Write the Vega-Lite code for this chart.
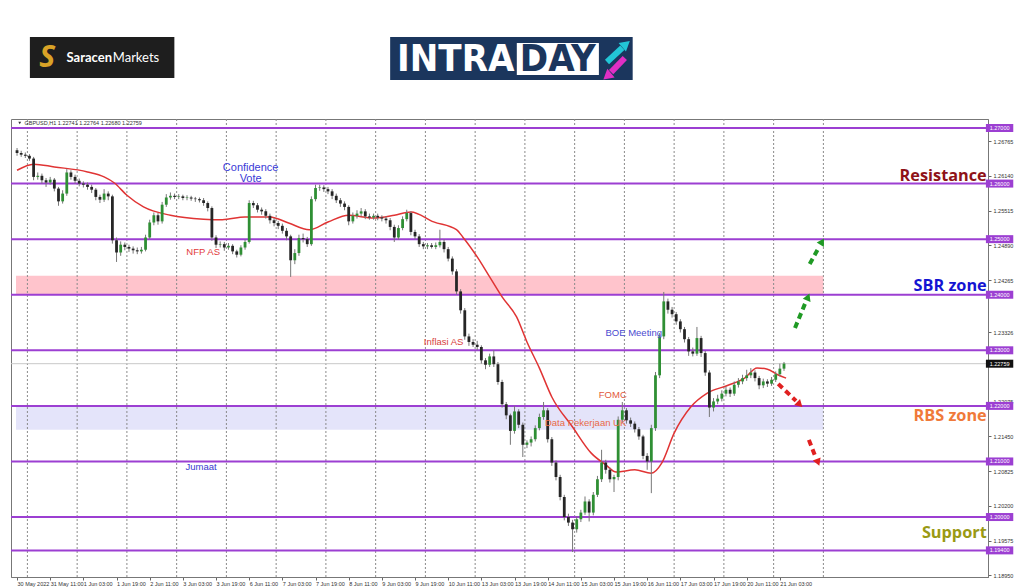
{
"$schema": "https://vega.github.io/schema/vega-lite/v6.json",
"width": 977, "height": 458,
"autosize": {"type": "none"},
"padding": {"left": 11, "top": 119, "right": 36, "bottom": 10},
"background": "white",
"config": {"view": {"stroke": "#777", "strokeWidth": 1}, "font": "Liberation Sans"},
"resolve": {"scale": {"color": "independent"}},
"datasets": {
"one": [{"k": 1}],
"candles": [
{"t":0,"o":1.2660,"h":1.2664,"l":1.2650,"c":1.2655},
{"t":2,"o":1.2655,"h":1.2659,"l":1.2648,"c":1.2652},
{"t":4,"o":1.2652,"h":1.2656,"l":1.2646,"c":1.2650},
{"t":6,"o":1.2650,"h":1.2653,"l":1.2641,"c":1.2645},
{"t":8,"o":1.2645,"h":1.2648,"l":1.2606,"c":1.2612},
{"t":10,"o":1.2612,"h":1.2620,"l":1.2607,"c":1.2614},
{"t":12,"o":1.2614,"h":1.2618,"l":1.2600,"c":1.2606},
{"t":14,"o":1.2606,"h":1.2610,"l":1.2594,"c":1.2602},
{"t":16,"o":1.2602,"h":1.2612,"l":1.2598,"c":1.2607},
{"t":18,"o":1.2607,"h":1.2610,"l":1.2586,"c":1.2591},
{"t":20,"o":1.2591,"h":1.2594,"l":1.2560,"c":1.2568},
{"t":22,"o":1.2568,"h":1.2588,"l":1.2564,"c":1.2582},
{"t":24,"o":1.2582,"h":1.2626,"l":1.2578,"c":1.2620},
{"t":26,"o":1.2620,"h":1.2624,"l":1.2607,"c":1.2612},
{"t":28,"o":1.2612,"h":1.2616,"l":1.2600,"c":1.2605},
{"t":30,"o":1.2605,"h":1.2609,"l":1.2595,"c":1.2600},
{"t":32,"o":1.2600,"h":1.2604,"l":1.2593,"c":1.2598},
{"t":34,"o":1.2598,"h":1.2602,"l":1.2589,"c":1.2594},
{"t":36,"o":1.2594,"h":1.2598,"l":1.2583,"c":1.2589},
{"t":38,"o":1.2589,"h":1.2592,"l":1.2570,"c":1.2576},
{"t":40,"o":1.2576,"h":1.2580,"l":1.2565,"c":1.2571},
{"t":42,"o":1.2571,"h":1.2590,"l":1.2567,"c":1.2582},
{"t":44,"o":1.2582,"h":1.2586,"l":1.2570,"c":1.2577},
{"t":46,"o":1.2577,"h":1.2580,"l":1.2492,"c":1.2498},
{"t":48,"o":1.2498,"h":1.2503,"l":1.2459,"c":1.2476},
{"t":50,"o":1.2476,"h":1.2496,"l":1.2470,"c":1.2490},
{"t":52,"o":1.2490,"h":1.2494,"l":1.2480,"c":1.2486},
{"t":54,"o":1.2486,"h":1.2490,"l":1.2477,"c":1.2483},
{"t":56,"o":1.2483,"h":1.2487,"l":1.2474,"c":1.2480},
{"t":58,"o":1.2480,"h":1.2485,"l":1.2473,"c":1.2478},
{"t":60,"o":1.2478,"h":1.2486,"l":1.2474,"c":1.2481},
{"t":62,"o":1.2481,"h":1.2508,"l":1.2478,"c":1.2503},
{"t":64,"o":1.2503,"h":1.2535,"l":1.2500,"c":1.2530},
{"t":66,"o":1.2530,"h":1.2548,"l":1.2525,"c":1.2543},
{"t":68,"o":1.2543,"h":1.2547,"l":1.2526,"c":1.2532},
{"t":70,"o":1.2532,"h":1.2567,"l":1.2528,"c":1.2562},
{"t":72,"o":1.2562,"h":1.2581,"l":1.2558,"c":1.2575},
{"t":74,"o":1.2575,"h":1.2584,"l":1.2571,"c":1.2578},
{"t":76,"o":1.2578,"h":1.2582,"l":1.2572,"c":1.2576},
{"t":78,"o":1.2576,"h":1.2581,"l":1.2572,"c":1.2577},
{"t":80,"o":1.2577,"h":1.2580,"l":1.2570,"c":1.2574},
{"t":82,"o":1.2574,"h":1.2579,"l":1.2570,"c":1.2575},
{"t":84,"o":1.2575,"h":1.2578,"l":1.2569,"c":1.2573},
{"t":86,"o":1.2573,"h":1.2576,"l":1.2567,"c":1.2572},
{"t":88,"o":1.2572,"h":1.2575,"l":1.2566,"c":1.2570},
{"t":90,"o":1.2570,"h":1.2574,"l":1.2560,"c":1.2565},
{"t":92,"o":1.2565,"h":1.2568,"l":1.2550,"c":1.2556},
{"t":94,"o":1.2556,"h":1.2559,"l":1.2497,"c":1.2503},
{"t":96,"o":1.2503,"h":1.2507,"l":1.2484,"c":1.2490},
{"t":98,"o":1.2490,"h":1.2496,"l":1.2485,"c":1.2491},
{"t":100,"o":1.2491,"h":1.2495,"l":1.2479,"c":1.2485},
{"t":102,"o":1.2485,"h":1.2493,"l":1.2481,"c":1.2488},
{"t":104,"o":1.2488,"h":1.2491,"l":1.2473,"c":1.2478},
{"t":106,"o":1.2478,"h":1.2481,"l":1.2467,"c":1.2472},
{"t":108,"o":1.2472,"h":1.2489,"l":1.2469,"c":1.2485},
{"t":110,"o":1.2485,"h":1.2499,"l":1.2481,"c":1.2495},
{"t":112,"o":1.2495,"h":1.2570,"l":1.2492,"c":1.2565},
{"t":114,"o":1.2565,"h":1.2569,"l":1.2556,"c":1.2561},
{"t":116,"o":1.2561,"h":1.2565,"l":1.2548,"c":1.2553},
{"t":118,"o":1.2553,"h":1.2557,"l":1.2544,"c":1.2550},
{"t":120,"o":1.2550,"h":1.2554,"l":1.2537,"c":1.2542},
{"t":122,"o":1.2542,"h":1.2546,"l":1.2528,"c":1.2534},
{"t":124,"o":1.2534,"h":1.2538,"l":1.2523,"c":1.2529},
{"t":126,"o":1.2529,"h":1.2533,"l":1.2518,"c":1.2524},
{"t":128,"o":1.2524,"h":1.2528,"l":1.2510,"c":1.2515},
{"t":130,"o":1.2515,"h":1.2520,"l":1.2498,"c":1.2505},
{"t":132,"o":1.2505,"h":1.2508,"l":1.2432,"c":1.2462},
{"t":134,"o":1.2462,"h":1.2482,"l":1.2455,"c":1.2475},
{"t":136,"o":1.2475,"h":1.2508,"l":1.2470,"c":1.2502},
{"t":138,"o":1.2502,"h":1.2510,"l":1.2494,"c":1.2500},
{"t":140,"o":1.2500,"h":1.2504,"l":1.2486,"c":1.2491},
{"t":142,"o":1.2491,"h":1.2577,"l":1.2488,"c":1.2572},
{"t":144,"o":1.2572,"h":1.2598,"l":1.2568,"c":1.2592},
{"t":146,"o":1.2592,"h":1.2598,"l":1.2587,"c":1.2593},
{"t":148,"o":1.2593,"h":1.2597,"l":1.2585,"c":1.2590},
{"t":150,"o":1.2590,"h":1.2594,"l":1.2581,"c":1.2586},
{"t":152,"o":1.2586,"h":1.2590,"l":1.2572,"c":1.2578},
{"t":154,"o":1.2578,"h":1.2582,"l":1.2565,"c":1.2570},
{"t":156,"o":1.2570,"h":1.2574,"l":1.2558,"c":1.2564},
{"t":158,"o":1.2564,"h":1.2568,"l":1.2552,"c":1.2558},
{"t":160,"o":1.2558,"h":1.2561,"l":1.2525,"c":1.2532},
{"t":162,"o":1.2532,"h":1.2548,"l":1.2528,"c":1.2542},
{"t":164,"o":1.2542,"h":1.2552,"l":1.2537,"c":1.2546},
{"t":166,"o":1.2546,"h":1.2556,"l":1.2541,"c":1.2550},
{"t":168,"o":1.2550,"h":1.2554,"l":1.2536,"c":1.2541},
{"t":170,"o":1.2541,"h":1.2546,"l":1.2535,"c":1.2539},
{"t":172,"o":1.2539,"h":1.2546,"l":1.2535,"c":1.2542},
{"t":174,"o":1.2542,"h":1.2546,"l":1.2534,"c":1.2539},
{"t":176,"o":1.2539,"h":1.2543,"l":1.2532,"c":1.2537},
{"t":178,"o":1.2537,"h":1.2541,"l":1.2528,"c":1.2534},
{"t":180,"o":1.2534,"h":1.2538,"l":1.2516,"c":1.2522},
{"t":182,"o":1.2522,"h":1.2526,"l":1.2495,"c":1.2503},
{"t":184,"o":1.2503,"h":1.2525,"l":1.2499,"c":1.2520},
{"t":186,"o":1.2520,"h":1.2541,"l":1.2516,"c":1.2536},
{"t":188,"o":1.2536,"h":1.2553,"l":1.2532,"c":1.2547},
{"t":190,"o":1.2547,"h":1.2550,"l":1.2507,"c":1.2513},
{"t":192,"o":1.2513,"h":1.2517,"l":1.2500,"c":1.2505},
{"t":194,"o":1.2505,"h":1.2509,"l":1.2486,"c":1.2491},
{"t":196,"o":1.2491,"h":1.2495,"l":1.2482,"c":1.2487},
{"t":198,"o":1.2487,"h":1.2493,"l":1.2482,"c":1.2489},
{"t":200,"o":1.2489,"h":1.2493,"l":1.2483,"c":1.2486},
{"t":202,"o":1.2486,"h":1.2494,"l":1.2482,"c":1.2489},
{"t":204,"o":1.2489,"h":1.2517,"l":1.2485,"c":1.2495},
{"t":206,"o":1.2495,"h":1.2500,"l":1.2476,"c":1.2482},
{"t":208,"o":1.2482,"h":1.2486,"l":1.2460,"c":1.2465},
{"t":210,"o":1.2465,"h":1.2469,"l":1.2436,"c":1.2442},
{"t":212,"o":1.2442,"h":1.2446,"l":1.2400,"c":1.2406},
{"t":214,"o":1.2406,"h":1.2410,"l":1.2366,"c":1.2372},
{"t":216,"o":1.2372,"h":1.2376,"l":1.2319,"c":1.2325},
{"t":218,"o":1.2325,"h":1.2330,"l":1.2308,"c":1.2315},
{"t":220,"o":1.2315,"h":1.2320,"l":1.2306,"c":1.2310},
{"t":222,"o":1.2310,"h":1.2317,"l":1.2300,"c":1.2306},
{"t":224,"o":1.2306,"h":1.2309,"l":1.2276,"c":1.2282},
{"t":226,"o":1.2282,"h":1.2286,"l":1.2266,"c":1.2274},
{"t":228,"o":1.2274,"h":1.2294,"l":1.2270,"c":1.2289},
{"t":230,"o":1.2289,"h":1.2300,"l":1.2270,"c":1.2275},
{"t":232,"o":1.2275,"h":1.2279,"l":1.2238,"c":1.2243},
{"t":234,"o":1.2243,"h":1.2247,"l":1.2197,"c":1.2203},
{"t":236,"o":1.2203,"h":1.2207,"l":1.2176,"c":1.2183},
{"t":238,"o":1.2183,"h":1.2186,"l":1.2130,"c":1.2155},
{"t":240,"o":1.2155,"h":1.2200,"l":1.2150,"c":1.2190},
{"t":242,"o":1.2190,"h":1.2194,"l":1.2160,"c":1.2166},
{"t":244,"o":1.2166,"h":1.2170,"l":1.2108,"c":1.2130},
{"t":246,"o":1.2130,"h":1.2138,"l":1.2124,"c":1.2134},
{"t":248,"o":1.2134,"h":1.2145,"l":1.2127,"c":1.2140},
{"t":250,"o":1.2140,"h":1.2165,"l":1.2136,"c":1.2160},
{"t":252,"o":1.2160,"h":1.2186,"l":1.2156,"c":1.2180},
{"t":254,"o":1.2180,"h":1.2207,"l":1.2175,"c":1.2192},
{"t":256,"o":1.2192,"h":1.2196,"l":1.2134,"c":1.2140},
{"t":258,"o":1.2140,"h":1.2144,"l":1.2092,"c":1.2098},
{"t":260,"o":1.2098,"h":1.2102,"l":1.2066,"c":1.2072},
{"t":262,"o":1.2072,"h":1.2076,"l":1.2030,"c":1.2036},
{"t":264,"o":1.2036,"h":1.2040,"l":1.1994,"c":1.2000},
{"t":266,"o":1.2000,"h":1.2006,"l":1.1984,"c":1.1990},
{"t":268,"o":1.1990,"h":1.1995,"l":1.1937,"c":1.1978},
{"t":270,"o":1.1978,"h":1.2001,"l":1.1972,"c":1.1996},
{"t":272,"o":1.1996,"h":1.2013,"l":1.1991,"c":1.2008},
{"t":274,"o":1.2008,"h":1.2037,"l":1.2004,"c":1.2028},
{"t":276,"o":1.2028,"h":1.2032,"l":1.1992,"c":1.2008},
{"t":278,"o":1.2008,"h":1.2045,"l":1.2003,"c":1.2040},
{"t":280,"o":1.2040,"h":1.2074,"l":1.2036,"c":1.2068},
{"t":282,"o":1.2068,"h":1.2121,"l":1.2063,"c":1.2098},
{"t":284,"o":1.2098,"h":1.2103,"l":1.2078,"c":1.2085},
{"t":286,"o":1.2085,"h":1.2089,"l":1.2062,"c":1.2068},
{"t":288,"o":1.2068,"h":1.2076,"l":1.2045,"c":1.2072},
{"t":290,"o":1.2072,"h":1.2181,"l":1.2066,"c":1.2175},
{"t":292,"o":1.2175,"h":1.2207,"l":1.2170,"c":1.2192},
{"t":294,"o":1.2192,"h":1.2196,"l":1.2168,"c":1.2174},
{"t":296,"o":1.2174,"h":1.2179,"l":1.2162,"c":1.2168},
{"t":298,"o":1.2168,"h":1.2172,"l":1.2152,"c":1.2158},
{"t":300,"o":1.2158,"h":1.2162,"l":1.2139,"c":1.2145},
{"t":302,"o":1.2145,"h":1.2148,"l":1.2104,"c":1.2110},
{"t":304,"o":1.2110,"h":1.2115,"l":1.2085,"c":1.2100},
{"t":306,"o":1.2100,"h":1.2166,"l":1.2043,"c":1.2160},
{"t":308,"o":1.2160,"h":1.2261,"l":1.2155,"c":1.2255},
{"t":310,"o":1.2255,"h":1.2331,"l":1.2250,"c":1.2325},
{"t":312,"o":1.2325,"h":1.2405,"l":1.2320,"c":1.2388},
{"t":314,"o":1.2388,"h":1.2393,"l":1.2366,"c":1.2373},
{"t":316,"o":1.2373,"h":1.2378,"l":1.2359,"c":1.2365},
{"t":318,"o":1.2365,"h":1.2369,"l":1.2346,"c":1.2352},
{"t":320,"o":1.2352,"h":1.2356,"l":1.2332,"c":1.2338},
{"t":322,"o":1.2338,"h":1.2342,"l":1.2314,"c":1.2320},
{"t":324,"o":1.2320,"h":1.2324,"l":1.2290,"c":1.2298},
{"t":326,"o":1.2298,"h":1.2305,"l":1.2289,"c":1.2294},
{"t":328,"o":1.2294,"h":1.2342,"l":1.2290,"c":1.2322},
{"t":330,"o":1.2322,"h":1.2326,"l":1.2288,"c":1.2295},
{"t":332,"o":1.2295,"h":1.2299,"l":1.2254,"c":1.2260},
{"t":334,"o":1.2260,"h":1.2264,"l":1.2180,"c":1.2197},
{"t":336,"o":1.2197,"h":1.2214,"l":1.2190,"c":1.2208},
{"t":338,"o":1.2208,"h":1.2220,"l":1.2203,"c":1.2213},
{"t":340,"o":1.2213,"h":1.2228,"l":1.2208,"c":1.2222},
{"t":342,"o":1.2222,"h":1.2235,"l":1.2217,"c":1.2229},
{"t":344,"o":1.2229,"h":1.2233,"l":1.2216,"c":1.2222},
{"t":346,"o":1.2222,"h":1.2244,"l":1.2218,"c":1.2238},
{"t":348,"o":1.2238,"h":1.2250,"l":1.2233,"c":1.2244},
{"t":350,"o":1.2244,"h":1.2256,"l":1.2239,"c":1.2250},
{"t":352,"o":1.2250,"h":1.2265,"l":1.2245,"c":1.2255},
{"t":354,"o":1.2255,"h":1.2268,"l":1.2250,"c":1.2260},
{"t":356,"o":1.2260,"h":1.2264,"l":1.2244,"c":1.2250},
{"t":358,"o":1.2250,"h":1.2254,"l":1.2230,"c":1.2237},
{"t":360,"o":1.2237,"h":1.2249,"l":1.2232,"c":1.2244},
{"t":362,"o":1.2244,"h":1.2248,"l":1.2234,"c":1.2240},
{"t":364,"o":1.2240,"h":1.2252,"l":1.2236,"c":1.2247},
{"t":366,"o":1.2247,"h":1.2262,"l":1.2243,"c":1.2257},
{"t":368,"o":1.2257,"h":1.2276,"l":1.2253,"c":1.2267},
{"t":370,"o":1.2267,"h":1.2279,"l":1.2263,"c":1.2276}
],
"ma": [
{"t":0,"v":1.2624},{"t":8,"v":1.2635},{"t":18,"v":1.2630},{"t":34,"v":1.2621},{"t":42,"v":1.2612},{"t":47,"v":1.2601},{"t":53,"v":1.2579},{"t":61,"v":1.2558},{"t":74,"v":1.2543},{"t":90,"v":1.2536},{"t":99,"v":1.2535},{"t":110,"v":1.2540},{"t":122,"v":1.2540},{"t":131,"v":1.2529},{"t":141,"v":1.2517},{"t":150,"v":1.2531},{"t":160,"v":1.2543},{"t":172,"v":1.2538},{"t":182,"v":1.2543},{"t":190,"v":1.2549},{"t":201,"v":1.2531},{"t":212,"v":1.2517},{"t":215,"v":1.2504},{"t":222,"v":1.2468},{"t":228,"v":1.2432},{"t":234,"v":1.2396},{"t":241,"v":1.2360},{"t":246,"v":1.2315},{"t":252,"v":1.2268},{"t":258,"v":1.2216},{"t":268,"v":1.2162},{"t":277,"v":1.2115},{"t":284,"v":1.2094},{"t":289,"v":1.2081},{"t":298,"v":1.2085},{"t":306,"v":1.2079},{"t":311,"v":1.2097},{"t":317,"v":1.2151},{"t":325,"v":1.2198},{"t":333,"v":1.2223},{"t":343,"v":1.2237},{"t":351,"v":1.2250},{"t":357,"v":1.2268},{"t":362,"v":1.2266},{"t":367,"v":1.2256},{"t":371,"v":1.2250}
]
},
"layer": [
{"data": {"values": [{"a":-0.5,"b":389,"lo":1.2400,"hi":1.2434,"z":"SBR"},{"a":-0.5,"b":389,"lo":1.2157,"hi":1.2200,"z":"RBS"}]},
 "mark": {"type": "rect"},
 "encoding": {
  "x": {"field":"a","type":"quantitative","scale":{"domain":[-0.5,466],"nice":false,"zero":false},
        "axis":{"orient":"bottom","values":[0,16,32,48,64,80,96,112,128,144,160,176,192,208,224,240,256,272,288,304,320,336,352,368],
        "labelExpr":"['30 May 2022','31 May 11:00','1 Jun 03:00','1 Jun 19:00','2 Jun 11:00','3 Jun 03:00','3 Jun 19:00','6 Jun 11:00','7 Jun 03:00','7 Jun 19:00','8 Jun 11:00','9 Jun 03:00','9 Jun 19:00','10 Jun 11:00','13 Jun 03:00','13 Jun 19:00','14 Jun 11:00','15 Jun 03:00','15 Jun 19:00','16 Jun 11:00','17 Jun 03:00','17 Jun 19:00','20 Jun 11:00','21 Jun 03:00'][round(datum.value/16)]",
        "labelAlign":"left","labelFontSize":5.5,"labelColor":"#333","labelPadding":1,"tickSize":3,"tickColor":"#666","domainColor":"#777","grid":false,"title":null,"labelOverlap":false,"labelFlush":false}},
  "x2": {"field":"b"},
  "y": {"field":"lo","type":"quantitative","scale":{"domain":[1.18921,1.27162],"nice":false,"zero":false},
        "axis":{"orient":"right","values":[1.2708,1.26765,1.26455,1.2614,1.2583,1.25515,1.25205,1.2489,1.2458,1.24265,1.2364,1.23326,1.2239,1.22075,1.21765,1.2145,1.2114,1.20825,1.2051,1.202,1.1989,1.19575,1.19265,1.1895],
        "format":".5f","labelFontSize":5.5,"labelColor":"#333","labelPadding":2,"tickSize":3,"tickColor":"#666","domainColor":"#777","grid":false,"title":null,"labelOverlap":false,"labelFlush":false}},
  "y2": {"field":"hi"},
  "color": {"field":"z","type":"nominal","scale":{"domain":["SBR","RBS"],"range":["#ffc4cc","#e4e4fa"]},"legend":null}
 }},
{"data": {"values": [{"t":5},{"t":29},{"t":53},{"t":77},{"t":101},{"t":125},{"t":149},{"t":173},{"t":197},{"t":221},{"t":245},{"t":269},{"t":293},{"t":317},{"t":341},{"t":365},{"t":389}]},
 "mark": {"type":"rule","color":"#8a8a8a","strokeWidth":1,"strokeDash":[2,2]},
 "encoding": {"x": {"field":"t","type":"quantitative","scale":{"domain":[-0.5,466],"nice":false,"zero":false}}}},
{"data": {"values": [{"p":1.22759}]},
 "mark": {"type":"rule","color":"#c8c8c8","strokeWidth":1},
 "encoding": {"y": {"field":"p","type":"quantitative","scale":{"domain":[1.18921,1.27162],"nice":false,"zero":false}}}},
{"data": {"values": [{"p":1.27},{"p":1.26},{"p":1.25},{"p":1.24},{"p":1.23},{"p":1.22},{"p":1.21},{"p":1.20},{"p":1.194}]},
 "mark": {"type":"rule","color":"#9c3fd2","strokeWidth":2},
 "encoding": {"y": {"field":"p","type":"quantitative","scale":{"domain":[1.18921,1.27162],"nice":false,"zero":false}}}},
{"data": {"name":"ma"},
 "mark": {"type":"line","color":"#e03434","strokeWidth":1.5,"interpolate":"monotone"},
 "encoding": {"x": {"field":"t","type":"quantitative","scale":{"domain":[-0.5,466],"nice":false,"zero":false}},
              "y": {"field":"v","type":"quantitative","scale":{"domain":[1.18921,1.27162],"nice":false,"zero":false}}}},
{"data": {"name":"candles"},
 "mark": {"type":"rule","color":"#777","strokeWidth":1},
 "encoding": {"x": {"field":"t","type":"quantitative","scale":{"domain":[-0.5,466],"nice":false,"zero":false}},
              "y": {"field":"l","type":"quantitative","scale":{"domain":[1.18921,1.27162],"nice":false,"zero":false}},
              "y2": {"field":"h"}}},
{"data": {"name":"candles"},
 "mark": {"type":"bar","width":2.8},
 "encoding": {"x": {"field":"t","type":"quantitative","scale":{"domain":[-0.5,466],"nice":false,"zero":false}},
              "y": {"field":"o","type":"quantitative","scale":{"domain":[1.18921,1.27162],"nice":false,"zero":false}},
              "y2": {"field":"c"},
              "color": {"condition":{"test":"datum.c >= datum.o","value":"#2f8f34"},"value":"#262626"}}},
{"data": {"values": [{"a":"g1","d":"up","t":375.3,"p":1.23403},{"a":"g1","d":"up","t":380.6,"p":1.2388},
                     {"a":"g2","d":"up","t":382.4,"p":1.24554},{"a":"g2","d":"up","t":386.8,"p":1.2485},
                     {"a":"r1","d":"down","t":367.2,"p":1.22396},{"a":"r1","d":"down","t":375.8,"p":1.2209},
                     {"a":"r2","d":"down","t":382.0,"p":1.21388},{"a":"r2","d":"down","t":385.0,"p":1.2110}]},
 "mark": {"type":"line","strokeWidth":4,"strokeDash":[6,4]},
 "encoding": {"x": {"field":"t","type":"quantitative","scale":{"domain":[-0.5,466],"nice":false,"zero":false}},
              "y": {"field":"p","type":"quantitative","scale":{"domain":[1.18921,1.27162],"nice":false,"zero":false}},
              "detail": {"field":"a"},
              "color": {"field":"d","type":"nominal","scale":{"domain":["up","down"],"range":["#1f9a24","#e02020"]},"legend":null}}},
{"data": {"name":"one"},
 "mark": {"type":"point","shape":"triangle-up","filled":true,"opacity":1,"size":70,"angle":23,"color":"#1f9a24"},
 "encoding": {"x": {"datum":381.6,"type":"quantitative","scale":{"domain":[-0.5,466],"nice":false,"zero":false}},
              "y": {"datum":1.2396,"type":"quantitative","scale":{"domain":[1.18921,1.27162],"nice":false,"zero":false}}}},
{"data": {"name":"one"},
 "mark": {"type":"point","shape":"triangle-up","filled":true,"opacity":1,"size":70,"angle":31,"color":"#1f9a24"},
 "encoding": {"x": {"datum":388.4,"type":"quantitative","scale":{"domain":[-0.5,466],"nice":false,"zero":false}},
              "y": {"datum":1.24955,"type":"quantitative","scale":{"domain":[1.18921,1.27162],"nice":false,"zero":false}}}},
{"data": {"name":"one"},
 "mark": {"type":"point","shape":"triangle-up","filled":true,"opacity":1,"size":70,"angle":134,"color":"#e02020"},
 "encoding": {"x": {"datum":377.6,"type":"quantitative","scale":{"domain":[-0.5,466],"nice":false,"zero":false}},
              "y": {"datum":1.22025,"type":"quantitative","scale":{"domain":[1.18921,1.27162],"nice":false,"zero":false}}}},
{"data": {"name":"one"},
 "mark": {"type":"point","shape":"triangle-up","filled":true,"opacity":1,"size":70,"angle":159,"color":"#e02020"},
 "encoding": {"x": {"datum":386.4,"type":"quantitative","scale":{"domain":[-0.5,466],"nice":false,"zero":false}},
              "y": {"datum":1.20985,"type":"quantitative","scale":{"domain":[1.18921,1.27162],"nice":false,"zero":false}}}},
{"data": {"values": [{"t":467.8,"p":1.26137,"txt":"Resistance"},{"t":467.8,"p":1.24158,"txt":"SBR zone"},{"t":467.8,"p":1.2182,"txt":"RBS zone"},{"t":467.8,"p":1.19716,"txt":"Support"}]},
 "mark": {"type":"text","align":"right","baseline":"middle","font":"Open Sans","fontWeight":"bold","fontSize":16.3},
 "encoding": {"x": {"field":"t","type":"quantitative","scale":{"domain":[-0.5,466],"nice":false,"zero":false}},
              "y": {"field":"p","type":"quantitative","scale":{"domain":[1.18921,1.27162],"nice":false,"zero":false}},
              "text": {"field":"txt"},
              "color": {"field":"txt","type":"nominal","scale":{"domain":["Resistance","SBR zone","RBS zone","Support"],"range":["#8e1218","#1414d2","#f07a3a","#9a9a14"]},"legend":null}}},
{"data": {"values": [{"t":112.7,"p":1.26281,"txt":"Confidence"},{"t":112.7,"p":1.26083,"txt":"Vote"}]},
 "mark": {"type":"text","align":"center","baseline":"middle","fontSize":11,"color":"#3a3ad6"},
 "encoding": {"x": {"field":"t","type":"quantitative","scale":{"domain":[-0.5,466],"nice":false,"zero":false}},
              "y": {"field":"p","type":"quantitative","scale":{"domain":[1.18921,1.27162],"nice":false,"zero":false}},
              "text": {"field":"txt"}}},
{"data": {"values": [{"t":89.8,"p":1.2477,"txt":"NFP AS"},{"t":205.8,"p":1.23151,"txt":"Inflasi AS"},{"t":297.5,"p":1.23313,"txt":"BOE Meeting"},{"t":287.4,"p":1.22196,"txt":"FOMC"},{"t":274.3,"p":1.21694,"txt":"Data Pekerjaan UK"},{"t":88.8,"p":1.20903,"txt":"Jumaat"}]},
 "mark": {"type":"text","align":"center","baseline":"middle","fontSize":9.5},
 "encoding": {"x": {"field":"t","type":"quantitative","scale":{"domain":[-0.5,466],"nice":false,"zero":false}},
              "y": {"field":"p","type":"quantitative","scale":{"domain":[1.18921,1.27162],"nice":false,"zero":false}},
              "text": {"field":"txt"},
              "color": {"field":"txt","type":"nominal","scale":{"domain":["NFP AS","Inflasi AS","BOE Meeting","FOMC","Data Pekerjaan UK","Jumaat"],"range":["#e23a3a","#d84040","#4a4ad0","#e2583c","#e86a48","#3a3ad0"]},"legend":null}}},
{"data": {"values": [{"t":3.6,"p":1.2709,"txt":"GBPUSD,H1  1.22741 1.22764 1.22680 1.22759"}]},
 "mark": {"type":"text","align":"left","baseline":"middle","fontSize":5.5,"color":"#333"},
 "encoding": {"x": {"field":"t","type":"quantitative","scale":{"domain":[-0.5,466],"nice":false,"zero":false}},
              "y": {"field":"p","type":"quantitative","scale":{"domain":[1.18921,1.27162],"nice":false,"zero":false}},
              "text": {"field":"txt"}}},
{"data": {"name":"one"},
 "mark": {"type":"point","shape":"triangle-down","filled":true,"opacity":1,"size":8,"color":"#333"},
 "encoding": {"x": {"datum":1.3,"type":"quantitative","scale":{"domain":[-0.5,466],"nice":false,"zero":false}},
              "y": {"datum":1.2709,"type":"quantitative","scale":{"domain":[1.18921,1.27162],"nice":false,"zero":false}}}},
{"data": {"values": [{"p":1.27},{"p":1.26},{"p":1.25},{"p":1.24},{"p":1.23},{"p":1.22},{"p":1.21},{"p":1.20},{"p":1.194}]},
 "mark": {"type":"rect","color":"#9c3fd2","yOffset":-4,"y2Offset":4},
 "encoding": {"x": {"datum":467.4,"type":"quantitative","scale":{"domain":[-0.5,466],"nice":false,"zero":false}},
              "x2": {"datum":480.6},
              "y": {"field":"p","type":"quantitative","scale":{"domain":[1.18921,1.27162],"nice":false,"zero":false}},
              "y2": {"field":"p"}}},
{"data": {"values": [{"p":1.27},{"p":1.26},{"p":1.25},{"p":1.24},{"p":1.23},{"p":1.22},{"p":1.21},{"p":1.20},{"p":1.194}]},
 "mark": {"type":"text","color":"white","fontSize":5.5,"align":"center","baseline":"middle"},
 "encoding": {"x": {"datum":474,"type":"quantitative","scale":{"domain":[-0.5,466],"nice":false,"zero":false}},
              "y": {"field":"p","type":"quantitative","scale":{"domain":[1.18921,1.27162],"nice":false,"zero":false}},
              "text": {"field":"p","format":".5f"}}},
{"data": {"values": [{"p":1.22759}]},
 "mark": {"type":"rect","color":"#111","yOffset":-4,"y2Offset":4},
 "encoding": {"x": {"datum":467.4,"type":"quantitative","scale":{"domain":[-0.5,466],"nice":false,"zero":false}},
              "x2": {"datum":480.6},
              "y": {"field":"p","type":"quantitative","scale":{"domain":[1.18921,1.27162],"nice":false,"zero":false}},
              "y2": {"field":"p"}}},
{"data": {"values": [{"p":1.22759}]},
 "mark": {"type":"text","color":"white","fontSize":5.5,"align":"center","baseline":"middle"},
 "encoding": {"x": {"datum":474,"type":"quantitative","scale":{"domain":[-0.5,466],"nice":false,"zero":false}},
              "y": {"field":"p","type":"quantitative","scale":{"domain":[1.18921,1.27162],"nice":false,"zero":false}},
              "text": {"field":"p","format":".5f"}}},
{"data": {"values": [{"a":6.2,"b":75.9,"lo":1.2790,"hi":1.28637,"k":"sar"},{"a":180.0,"b":297.0,"lo":1.27864,"hi":1.28637,"k":"intra"},{"a":241.1,"b":280.7,"lo":1.27954,"hi":1.28529,"k":"day"}]},
 "mark": {"type":"rect"},
 "encoding": {"x": {"field":"a","type":"quantitative","scale":{"domain":[-0.5,466],"nice":false,"zero":false}},
              "x2": {"field":"b"},
              "y": {"field":"lo","type":"quantitative","scale":{"domain":[1.18921,1.27162],"nice":false,"zero":false}},
              "y2": {"field":"hi"},
              "color": {"field":"k","type":"nominal","scale":{"domain":["sar","intra","day"],"range":["#1e1e1e","#1b365d","#ffffff"]},"legend":null}}},
{"data": {"values": [{"t":14.5,"p":1.28268,"txt":"S"}]},
 "mark": {"type":"text","align":"center","baseline":"middle","font":"Open Sans","fontWeight":"bold","fontStyle":"italic","fontSize":30,"color":"#d9a327"},
 "encoding": {"x": {"field":"t","type":"quantitative","scale":{"domain":[-0.5,466],"nice":false,"zero":false}},
              "y": {"field":"p","type":"quantitative","scale":{"domain":[1.18921,1.27162],"nice":false,"zero":false}},
              "text": {"field":"txt"}}},
{"data": {"values": [{"t":23.9,"p":1.28268,"txt":"Saracen"}]},
 "mark": {"type":"text","align":"left","baseline":"middle","font":"Lato","fontWeight":"bold","fontSize":13,"color":"white"},
 "encoding": {"x": {"field":"t","type":"quantitative","scale":{"domain":[-0.5,466],"nice":false,"zero":false}},
              "y": {"field":"p","type":"quantitative","scale":{"domain":[1.18921,1.27162],"nice":false,"zero":false}},
              "text": {"field":"txt"}}},
{"data": {"values": [{"t":46.2,"p":1.28268,"txt":"Markets"}]},
 "mark": {"type":"text","align":"left","baseline":"middle","font":"Lato","fontSize":13,"color":"white"},
 "encoding": {"x": {"field":"t","type":"quantitative","scale":{"domain":[-0.5,466],"nice":false,"zero":false}},
              "y": {"field":"p","type":"quantitative","scale":{"domain":[1.18921,1.27162],"nice":false,"zero":false}},
              "text": {"field":"txt"}}},
{"data": {"values": [{"t":183.3,"p":1.28242,"txt":"INTRA"}]},
 "mark": {"type":"text","align":"left","baseline":"middle","font":"DejaVu Sans Condensed","fontWeight":"bold","fontSize":38,"color":"white","dy":1},
 "encoding": {"x": {"field":"t","type":"quantitative","scale":{"domain":[-0.5,466],"nice":false,"zero":false}},
              "y": {"field":"p","type":"quantitative","scale":{"domain":[1.18921,1.27162],"nice":false,"zero":false}},
              "text": {"field":"txt"}}},
{"data": {"values": [{"t":260.9,"p":1.28242,"txt":"DAY"}]},
 "mark": {"type":"text","align":"center","baseline":"middle","font":"DejaVu Sans Condensed","fontWeight":"bold","fontSize":38,"color":"#1b365d","dy":1},
 "encoding": {"x": {"field":"t","type":"quantitative","scale":{"domain":[-0.5,466],"nice":false,"zero":false}},
              "y": {"field":"p","type":"quantitative","scale":{"domain":[1.18921,1.27162],"nice":false,"zero":false}},
              "text": {"field":"txt"}}},
{"data": {"values": [{"a":"c","t":284.6,"p":1.28188},{"a":"c","t":292.0,"p":1.28445},{"a":"m","t":293.2,"p":1.2826},{"a":"m","t":286.6,"p":1.28005}]},
 "mark": {"type":"line","strokeWidth":6,"strokeCap":"butt"},
 "encoding": {"x": {"field":"t","type":"quantitative","scale":{"domain":[-0.5,466],"nice":false,"zero":false}},
              "y": {"field":"p","type":"quantitative","scale":{"domain":[1.18921,1.27162],"nice":false,"zero":false}},
              "detail": {"field":"a"},
              "color": {"field":"a","type":"nominal","scale":{"domain":["c","m"],"range":["#22c6d6","#e02fc4"]},"legend":null}}},
{"data": {"name":"one"},
 "mark": {"type":"point","shape":"triangle-up","filled":true,"opacity":1,"size":130,"angle":50,"color":"#22c6d6"},
 "encoding": {"x": {"datum":293.8,"type":"quantitative","scale":{"domain":[-0.5,466],"nice":false,"zero":false}},
              "y": {"datum":1.2851,"type":"quantitative","scale":{"domain":[1.18921,1.27162],"nice":false,"zero":false}}}},
{"data": {"name":"one"},
 "mark": {"type":"point","shape":"triangle-up","filled":true,"opacity":1,"size":130,"angle":230,"color":"#e02fc4"},
 "encoding": {"x": {"datum":284.7,"type":"quantitative","scale":{"domain":[-0.5,466],"nice":false,"zero":false}},
              "y": {"datum":1.2793,"type":"quantitative","scale":{"domain":[1.18921,1.27162],"nice":false,"zero":false}}}}
]
}
